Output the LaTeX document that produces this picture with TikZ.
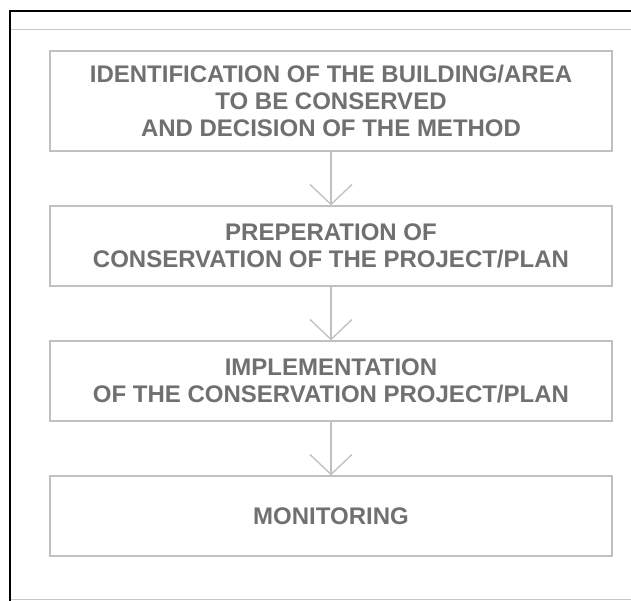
\documentclass[tikz,border=0pt]{standalone}
\usepackage{fontspec}
\setmainfont{Liberation Sans}
\usetikzlibrary{arrows.meta}
\definecolor{txtgray}{RGB}{112,112,112}
\definecolor{boxgray}{RGB}{192,192,192}
\definecolor{rulegray}{RGB}{200,200,200}
\tikzset{
  stepbox/.style={draw=boxgray, line width=1.3pt, minimum width=562pt, inner sep=0pt,
    align=center, text=txtgray, font=\fontsize{24}{27}\selectfont\bfseries},
  flowarrow/.style={draw=boxgray, line width=1.3pt, -{Straight Barb[length=20pt, width=42pt, line width=1.3pt]}}
}
\begin{document}
\begin{tikzpicture}[x=1pt,y=-1pt]
\useasboundingbox (0,0) rectangle (631,601);
\fill[white] (0,0) rectangle (631,601);
% frame
\coordinate (tl) at (10,11);
\coordinate (tr) at (631,11);
\coordinate (bl) at (10,601);
\draw[black, line width=2.2pt] (bl) -- (tl) -- (tr);
\coordinate (g1a) at (11,29.5);
\coordinate (g1b) at (631,29.5);
\draw[rulegray, line width=1.5pt] (g1a) -- (g1b);
\coordinate (g2a) at (11,599.5);
\coordinate (g2b) at (631,599.5);
\draw[rulegray, line width=1.5pt] (g2a) -- (g2b);
% boxes
\node[stepbox, minimum height=100pt] (b1) at (331,101) {IDENTIFICATION OF THE BUILDING/AREA\\TO BE CONSERVED\\AND DECISION OF THE METHOD};
\node[stepbox, minimum height=80pt] (b2) at (331,246) {PREPERATION OF\\CONSERVATION OF THE PROJECT/PLAN};
\node[stepbox, minimum height=80pt] (b3) at (331,381) {IMPLEMENTATION\\OF THE CONSERVATION PROJECT/PLAN};
\node[stepbox, minimum height=80pt] (b4) at (331,516) {MONITORING};
% arrows
\draw[flowarrow] (b1.south) -- (b2.north);
\draw[flowarrow] (b2.south) -- (b3.north);
\draw[flowarrow] (b3.south) -- (b4.north);
\end{tikzpicture}
\end{document}
